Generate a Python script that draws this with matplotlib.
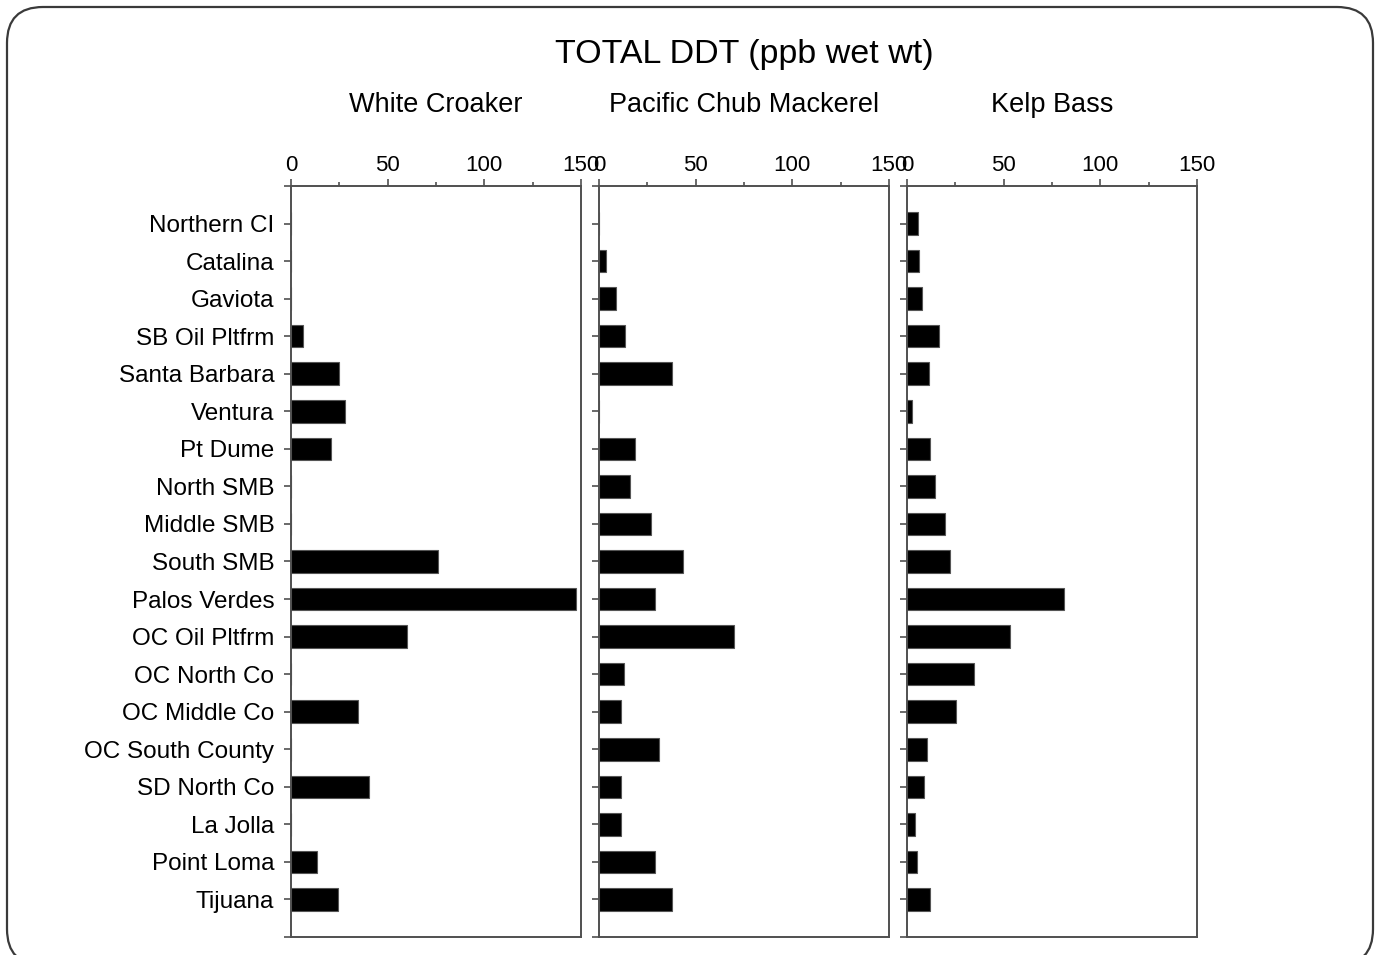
import matplotlib
matplotlib.use("Agg")
import matplotlib.pyplot as plt
import matplotlib.patches as mpatches
from matplotlib.transforms import IdentityTransform
import numpy as np

plt.rcParams['font.family'] = ['Liberation Sans', 'DejaVu Sans']

sites = ['Northern CI', 'Catalina', 'Gaviota', 'SB Oil Pltfrm', 'Santa Barbara',
         'Ventura', 'Pt Dume', 'North SMB', 'Middle SMB', 'South SMB',
         'Palos Verdes', 'OC Oil Pltfrm', 'OC North Co', 'OC Middle Co',
         'OC South County', 'SD North Co', 'La Jolla', 'Point Loma', 'Tijuana']

white_croaker = [0, 0, 0, 6.2, 24.9, 27.8, 20.6, 0, 0, 76.1,
                 147.4, 60.0, 0, 34.7, 0, 40.4, 0, 13.7, 24.2]
chub_mackerel = [0, 3.5, 9.0, 13.3, 37.9, 0, 18.5, 15.9, 27.1, 43.7,
                 29.2, 70.0, 12.8, 11.2, 31.0, 11.6, 11.6, 29.2, 37.9]
kelp_bass = [5.7, 6.1, 7.8, 16.4, 11.2, 2.6, 11.8, 14.7, 19.4, 22.1,
             81.3, 53.4, 34.6, 25.6, 10.4, 8.7, 4.0, 5.2, 11.8]

panel_titles = ['White Croaker', 'Pacific Chub Mackerel', 'Kelp Bass']
panel_data = [white_croaker, chub_mackerel, kelp_bass]

W, H = 1377, 955
fig = plt.figure(figsize=(W / 100, H / 100), dpi=100)

# slide frame
frame = mpatches.FancyBboxPatch((7, -10), 1366, 958,
                                boxstyle="round,pad=0,rounding_size=36",
                                transform=IdentityTransform(), fill=False,
                                edgecolor='#3a3a3a', linewidth=1.6)
fig.patches.append(frame)

lefts = [291, 599, 907]
top_px, bot_px = 186, 937
spine_col = '#505050'
y = np.arange(len(sites))

for i, (left, vals, name) in enumerate(zip(lefts, panel_data, panel_titles)):
    ax = fig.add_axes([left / W, 1 - bot_px / H, 290 / W, (bot_px - top_px) / H])
    ax.barh(y, vals, height=0.6, color='black', edgecolor='#555555', linewidth=0.8)
    ax.set_xlim(0, 150)
    ax.set_ylim(19, -1)
    ax.xaxis.tick_top()
    ax.set_xticks([0, 50, 100, 150])
    ax.set_xticks([25, 75, 125], minor=True)
    ax.tick_params(axis='x', which='major', length=5, width=1.2, color=spine_col,
                   labelsize=16, pad=2)
    ax.tick_params(axis='x', which='minor', length=3, width=1.2, color=spine_col)
    ax.set_yticks(np.arange(-1, 20))
    if i == 0:
        ax.set_yticklabels([''] + sites + [''])
    else:
        ax.set_yticklabels([])
    ax.tick_params(axis='y', length=5, width=1.2, color=spine_col, labelsize=17.5, pad=7)
    for s in ax.spines.values():
        s.set_color(spine_col)
        s.set_linewidth(1.4)
    fig.text((left + 145) / W, 1 - 105 / H, name, ha='center', va='center', fontsize=19.5)

fig.text(744 / W, 1 - 54 / H, 'TOTAL DDT (ppb wet wt)', ha='center', va='center', fontsize=24.5)

fig.savefig('out.png', dpi=100)
